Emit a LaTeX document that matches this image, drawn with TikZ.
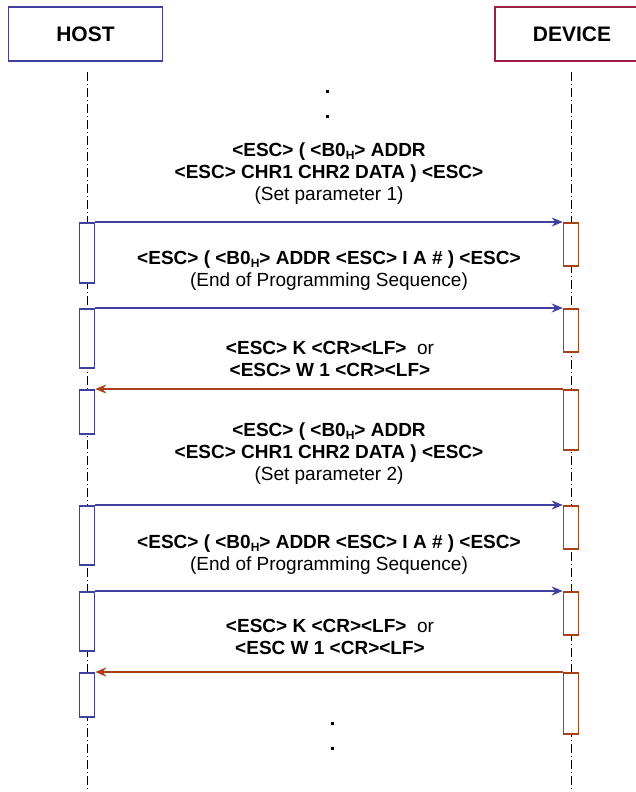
\documentclass[tikz,border=0pt]{standalone}
\usepackage{fontspec}
\setmainfont{Liberation Sans}
\usetikzlibrary{arrows.meta}
\definecolor{hostblue}{RGB}{64,64,160}
\definecolor{devred}{RGB}{160,32,72}
\definecolor{msgbrown}{RGB}{168,64,24}
\newcommand{\subH}{\raisebox{-0.12em}{\fontsize{12}{12}\selectfont H}}

\begin{document}
\begin{tikzpicture}[x=1pt, y=-1pt,
		actor/.style={draw, line width=1.5pt, minimum width=154pt, minimum height=54pt, font=\fontsize{21}{24}\selectfont\bfseries},
		lifeline/.style={dash pattern=on 9pt off 3pt on 1pt off 3pt, line width=0.9pt},
		act/.style={draw, line width=1.5pt, fill=white, minimum width=15pt, anchor=north, inner sep=0pt},
		msg/.style={line width=2pt, -{Stealth[length=11pt, width=9pt]}},
		lbl/.style={align=center, font=\fontsize{19}{22}\selectfont},
		dotmark/.style={fill, rectangle, inner sep=0pt, minimum size=3pt}]
	\useasboundingbox (0,0) rectangle (635,792);
	% actors
	\node[actor, draw=hostblue] (host) at (85.5,34) {HOST};
	\node[actor, draw=devred] (device) at (572,34) {DEVICE};
	\coordinate (htop) at (87,72);
	\coordinate (hbot) at (87,792);
	\coordinate (dtop) at (571,72);
	\coordinate (dbot) at (571,792);
	\draw[lifeline] (htop) -- (hbot);
	\draw[lifeline] (dtop) -- (dbot);
	% activations
	\foreach \i/\t/\b in {1/222/282, 2/308/367, 3/389/433, 4/505/564, 5/591/650, 6/672/716}
		\node[act, draw=hostblue, minimum height={(\b-\t)*1pt}] (h\i) at (87,\t) {};
	\foreach \i/\t/\b in {1/222/265, 2/308/351, 3/389/449, 4/505/548, 5/591/634, 6/672/733}
		\node[act, draw=msgbrown, minimum height={(\b-\t)*1pt}] (d\i) at (571,\t) {};
	% messages
	\draw[msg, hostblue] (h1.north east) -- (d1.north west);
	\draw[msg, hostblue] (h2.north east) -- (d2.north west);
	\draw[msg, msgbrown] (d3.north west) -- (h3.north east);
	\draw[msg, hostblue] (h4.north east) -- (d4.north west);
	\draw[msg, hostblue] (h5.north east) -- (d5.north west);
	\draw[msg, msgbrown] (d6.north west) -- (h6.north east);
	% labels
	\node[lbl] (set1) at (329,174) {\textbf{<ESC> ( <B0\subH> ADDR}\\
		\textbf{<ESC> CHR1 CHR2 DATA ) <ESC>}\\ (Set parameter 1)};
	\node[lbl] (end1) at (329,271) {\textbf{<ESC> ( <B0\subH> ADDR <ESC> I A \# ) <ESC>}\\
		(End of Programming Sequence)};
	\node[lbl] (ack1) at (330,359) {\textbf{<ESC> K <CR><LF>}\ \ or\\
		\textbf{<ESC> W 1 <CR><LF>}};
	\node[lbl] (set2) at (329,454) {\textbf{<ESC> ( <B0\subH> ADDR}\\
		\textbf{<ESC> CHR1 CHR2 DATA ) <ESC>}\\ (Set parameter 2)};
	\node[lbl] (end2) at (329,555) {\textbf{<ESC> ( <B0\subH> ADDR <ESC> I A \# ) <ESC>}\\
		(End of Programming Sequence)};
	\node[lbl] (ack2) at (330,637) {\textbf{<ESC> K <CR><LF>}\ \ or\\
		\textbf{<ESC W 1 <CR><LF>}};
	% continuation dots
	\node[dotmark] (top1) at (327,91) {};
	\node[dotmark] (top2) at (327,116) {};
	\node[dotmark] (bot1) at (332,723) {};
	\node[dotmark] (bot2) at (332,748) {};
\end{tikzpicture}
\end{document}
